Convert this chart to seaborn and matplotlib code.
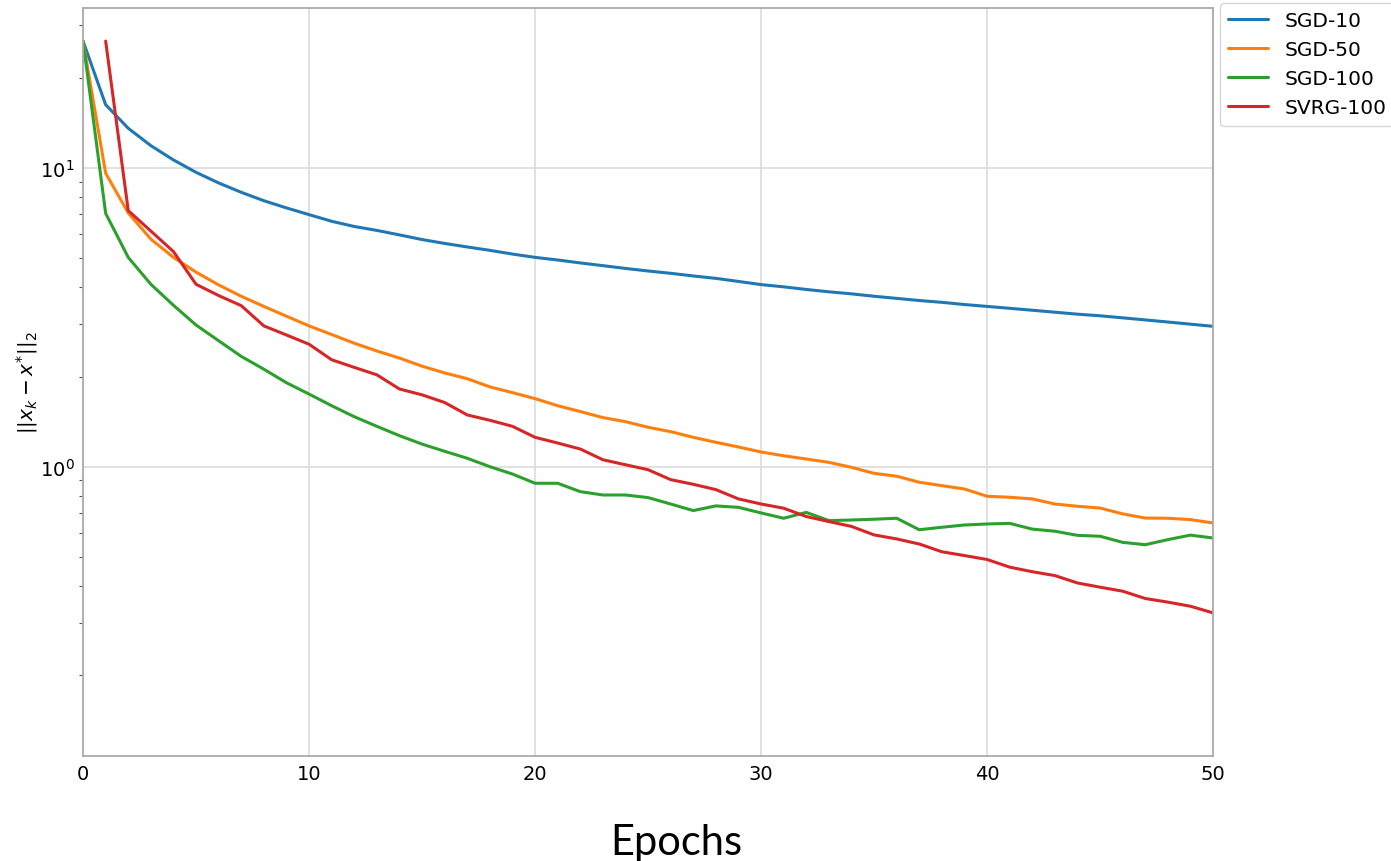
import numpy as np
import pandas as pd
import matplotlib
matplotlib.use("Agg")
import matplotlib.pyplot as plt
import seaborn as sns

# values (log scale), one per epoch
epochs = list(range(0, 51))

sgd_10 = [26.6, 16.29, 13.58, 11.88, 10.64, 9.67, 8.91, 8.29, 7.77, 7.35,
          6.98, 6.63, 6.37, 6.18, 5.97, 5.76, 5.59, 5.44, 5.30, 5.15,
          5.02, 4.92, 4.81, 4.71, 4.61, 4.52, 4.44, 4.35, 4.27, 4.17,
          4.07, 4.00, 3.92, 3.85, 3.79, 3.72, 3.66, 3.60, 3.55, 3.49,
          3.44, 3.39, 3.34, 3.29, 3.24, 3.20, 3.15, 3.10, 3.05, 3.00,
          2.95]

sgd_50 = [26.6, 9.61, 7.07, 5.78, 5.02, 4.48, 4.06, 3.72, 3.44, 3.19,
          2.96, 2.77, 2.59, 2.44, 2.31, 2.17, 2.06, 1.97, 1.85, 1.77,
          1.69, 1.60, 1.53, 1.46, 1.415, 1.355, 1.31, 1.254, 1.207, 1.164,
          1.12, 1.088, 1.061, 1.034, 0.995, 0.95, 0.929, 0.887, 0.864, 0.842,
          0.796, 0.79, 0.78, 0.75, 0.737, 0.727, 0.695, 0.673, 0.672, 0.665,
          0.648]

sgd_100 = [26.6, 7.05, 5.02, 4.08, 3.47, 2.98, 2.64, 2.34, 2.12, 1.91,
           1.75, 1.60, 1.47, 1.365, 1.27, 1.19, 1.126, 1.067, 1.0, 0.945,
           0.88, 0.88, 0.825, 0.804, 0.804, 0.788, 0.75, 0.713, 0.739, 0.731,
           0.70, 0.672, 0.703, 0.66, 0.663, 0.667, 0.672, 0.615, 0.627, 0.638,
           0.643, 0.646, 0.618, 0.608, 0.589, 0.585, 0.558, 0.548, 0.570, 0.590,
           0.577]

# SVRG starts at epoch 1
svrg_100 = [np.nan, 26.6, 7.2, 6.15, 5.25, 4.08, 3.74, 3.46, 2.96, 2.76,
            2.57, 2.28, 2.15, 2.03, 1.82, 1.74, 1.64, 1.49, 1.43, 1.365,
            1.254, 1.20, 1.146, 1.055, 1.015, 0.977, 0.905, 0.873, 0.838, 0.78,
            0.75, 0.726, 0.681, 0.655, 0.631, 0.591, 0.573, 0.551, 0.519, 0.504,
            0.489, 0.461, 0.445, 0.432, 0.408, 0.395, 0.383, 0.362, 0.352, 0.341,
            0.324]

labels = ["SGD-10", "SGD-50", "SGD-100", "SVRG-100"]
series = [sgd_10, sgd_50, sgd_100, svrg_100]

frames = []
for name, vals in zip(labels, series):
    frames.append(pd.DataFrame({"epoch": epochs, "err": vals, "method": name}))
df = pd.concat(frames).dropna()

sns.set_style("whitegrid")
plt.rcParams["font.family"] = ["DejaVu Sans"]
plt.rcParams["text.color"] = "black"

fig = plt.figure(figsize=(13.91, 8.62), dpi=100)
ax = fig.add_axes([0.0597, 0.1218, 0.8124, 0.8681])

sns.lineplot(data=df, x="epoch", y="err", hue="method", hue_order=labels,
             palette=["#1f77b4", "#ff7f0e", "#2ca02c", "#d62728"],
             linewidth=2.2, ax=ax)

ax.set_yscale("log")
ax.set_xlim(0, 50)
ax.set_ylim(0.1075, 34.4)
ax.set_xticks([0, 10, 20, 30, 40, 50])

ax.grid(True, which="major", color="#dcdcdc", linewidth=1.2)
ax.grid(False, which="minor")
for sp in ax.spines.values():
    sp.set_color("#aaaaaa")
    sp.set_linewidth(1.3)

ax.tick_params(axis="both", which="major", labelsize=14, length=0, pad=6,
               labelcolor="black")
ax.tick_params(axis="y", which="minor", left=True, length=3, width=0.8,
               color="#555555")

ax.set_xlabel("")
ax.set_ylabel(r"$||x_k - x^{*}||_2$", fontsize=14.5, color="black")
ax.yaxis.set_label_coords(-0.038, 0.5)

leg = ax.legend(loc="upper left", bbox_to_anchor=(1.006, 1.006), borderaxespad=0,
                fontsize=14.5, frameon=True, edgecolor="#cccccc")
for t in leg.get_texts():
    t.set_color("black")

fig.text(0.486, 0.008, "Epochs", ha="center", va="baseline", color="black",
         fontsize=30, family=["Lato", "DejaVu Sans"])

fig.savefig("out.png", dpi=100)
